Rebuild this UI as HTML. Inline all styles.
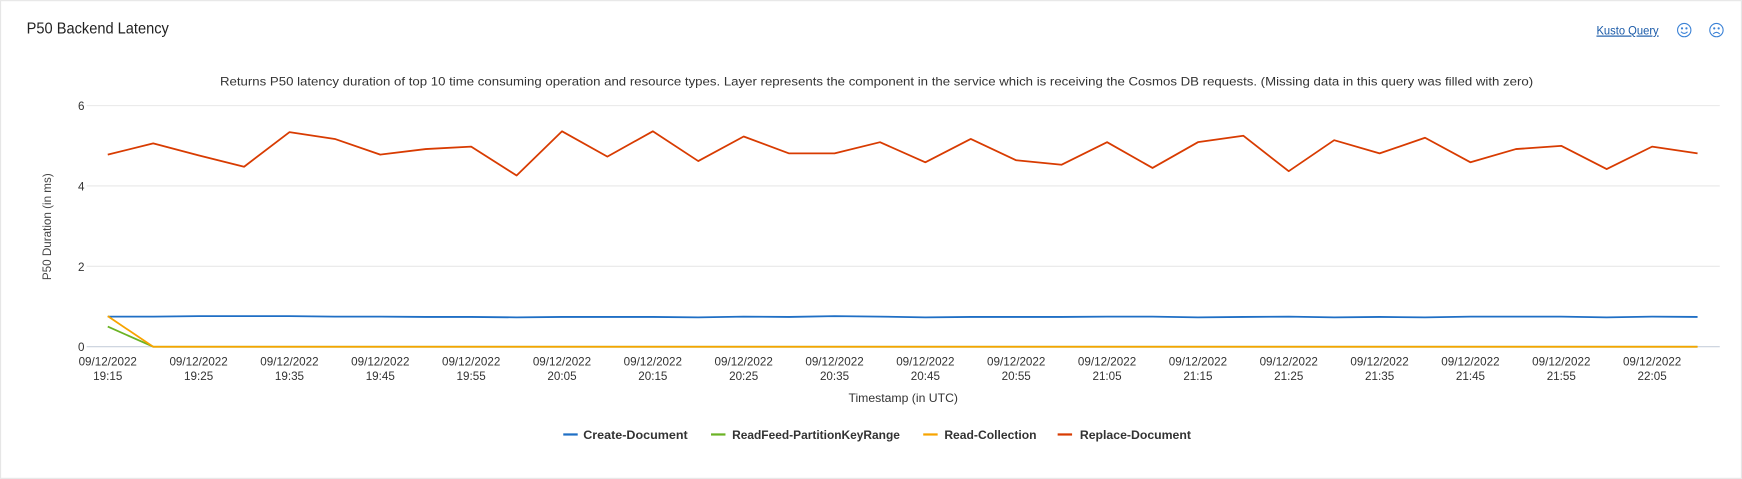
<!DOCTYPE html>
<html><head><meta charset="utf-8"><style>
html,body{margin:0;padding:0;background:#fff;}
svg{display:block;font-family:"Liberation Sans","DejaVu Sans",sans-serif;}
</style></head><body>
<svg id="chart" width="1742" height="479" viewBox="0 0 1568 431">
<rect x="0.5" y="0.5" width="1567" height="430" fill="#fff" stroke="#e6e6e6"/>
<text x="24" y="30" font-size="14" fill="#222" textLength="128" lengthAdjust="spacingAndGlyphs">P50 Backend Latency</text>
<text x="1437" y="31" font-size="10.5" fill="#1a5aa8" text-decoration="underline" textLength="56" lengthAdjust="spacingAndGlyphs">Kusto Query</text>
<g fill="none" stroke="#3b82d6" stroke-width="1">
<circle cx="1516" cy="27" r="6"/><circle cx="1514" cy="25.5" r="0.5" fill="#3b82d6"/><circle cx="1518" cy="25.5" r="0.5" fill="#3b82d6"/><path d="M1513 28.5 Q1516 31.5 1519 28.5"/></g>
<g fill="none" stroke="#3b82d6" stroke-width="1">
<circle cx="1545" cy="27" r="6"/><circle cx="1543" cy="25.5" r="0.5" fill="#3b82d6"/><circle cx="1547" cy="25.5" r="0.5" fill="#3b82d6"/><path d="M1542 30.5 Q1545 27.5 1548 30.5"/></g>
<text x="198" y="77" font-size="10.5" fill="#333" textLength="1182" lengthAdjust="spacingAndGlyphs">Returns P50 latency duration of top 10 time consuming operation and resource types. Layer represents the component in the service which is receiving the Cosmos DB requests. (Missing data in this query was filled with zero)</text>
<text transform="translate(46,204) rotate(-90)" font-size="10.5" fill="#444" text-anchor="middle">P50 Duration (in ms)</text>
<text x="813" y="362" font-size="11" fill="#333" text-anchor="middle">Timestamp (in UTC)</text>
<g id="grid"></g><g id="yt"></g><g id="xt"></g><g id="series"></g><g id="legend"></g>
</svg>
<script>
const NS="http://www.w3.org/2000/svg";
const yTicks=[0,2,4,6];
const times=["19:15","19:20","19:25","19:30","19:35","19:40","19:45","19:50","19:55","20:00","20:05","20:10","20:15","20:20","20:25","20:30","20:35","20:40","20:45","20:50","20:55","21:00","21:05","21:10","21:15","21:20","21:25","21:30","21:35","21:40","21:45","21:50","21:55","22:00","22:05","22:10"];
const seriesNames=["Create-Document","ReadFeed-PartitionKeyRange","Read-Collection","Replace-Document"];
const colors=["#1f6fc5","#6bb324","#f7a400","#d83b01"];
const createDoc=[0.75,0.75,0.76,0.76,0.76,0.75,0.75,0.74,0.74,0.73,0.74,0.74,0.74,0.73,0.75,0.74,0.76,0.75,0.73,0.74,0.74,0.74,0.75,0.75,0.73,0.74,0.75,0.73,0.74,0.73,0.75,0.75,0.75,0.73,0.75,0.74];
const readFeed=[0.5,0,0,0,0,0,0,0,0,0,0,0,0,0,0,0,0,0,0,0,0,0,0,0,0,0,0,0,0,0,0,0,0,0,0,0];
const readColl=[0.76,0,0,0,0,0,0,0,0,0,0,0,0,0,0,0,0,0,0,0,0,0,0,0,0,0,0,0,0,0,0,0,0,0,0,0];
const replaceDoc=[4.78,5.06,4.76,4.48,5.34,5.17,4.78,4.92,4.98,4.26,5.36,4.73,5.36,4.62,5.23,4.81,4.81,5.09,4.59,5.17,4.64,4.53,5.09,4.45,5.09,5.25,4.37,5.14,4.81,5.2,4.59,4.92,5.0,4.42,4.98,4.81];
const allSeries=[createDoc,readFeed,readColl,replaceDoc];
const X0=97,X1=1528,Y0=312,Y6=95;
const x=i=>X0+(X1-X0)*i/(times.length-1);
const y=v=>Y0-(Y0-Y6)*v/6;
function mk(t,a,p){const e=document.createElementNS(NS,t);for(const k in a)e.setAttribute(k,a[k]);p.appendChild(e);return e;}
const grid=document.getElementById('grid'),yt=document.getElementById('yt'),xt=document.getElementById('xt'),sg=document.getElementById('series'),lg=document.getElementById('legend');
yTicks.forEach(v=>{
 const l=mk('line',{x1:78,x2:1548,y1:y(v),y2:y(v),stroke:v===0?'#c8d0dc':'#e8e8e8','stroke-width':1},grid);
 
 
 const t=mk('text',{x:76,y:y(v)+4,'font-size':10.5,fill:'#333','text-anchor':'end'},yt);
 t.textContent=v;
 
 
});
times.forEach((tm,i)=>{
 if(i%2) return;
 const t=mk('text',{x:x(i),y:329,'font-size':10.5,fill:'#333','text-anchor':'middle'},xt);
 
 
 const a=mk('tspan',{x:x(i)},t);a.textContent='09/12/2022';
 const b=mk('tspan',{x:x(i),dy:13},t);b.textContent=tm;
});
allSeries.forEach((s,k)=>{
 const d=s.map((v,i)=>(i?'L':'M')+x(i).toFixed(1)+' '+y(v).toFixed(1)).join(' ');
 const p=mk('path',{d:d,fill:'none',stroke:colors[k],'stroke-width':1.6,'stroke-linejoin':'round'},sg);
 
 
});
const lx=[507,640,831,952];
const tx=[525,659,850,972];
const lw=[94,151,83,100];
seriesNames.forEach((n,k)=>{
 const g=mk('g',{},lg);
 
 
 mk('line',{x1:lx[k],x2:lx[k]+13,y1:391,y2:391,stroke:colors[k],'stroke-width':2},g);
 const t=mk('text',{x:tx[k],y:395,'font-size':11,'font-weight':'bold',fill:'#333',textLength:lw[k],lengthAdjust:'spacingAndGlyphs'},g);
 t.textContent=n;
});
</script>
</body></html>
